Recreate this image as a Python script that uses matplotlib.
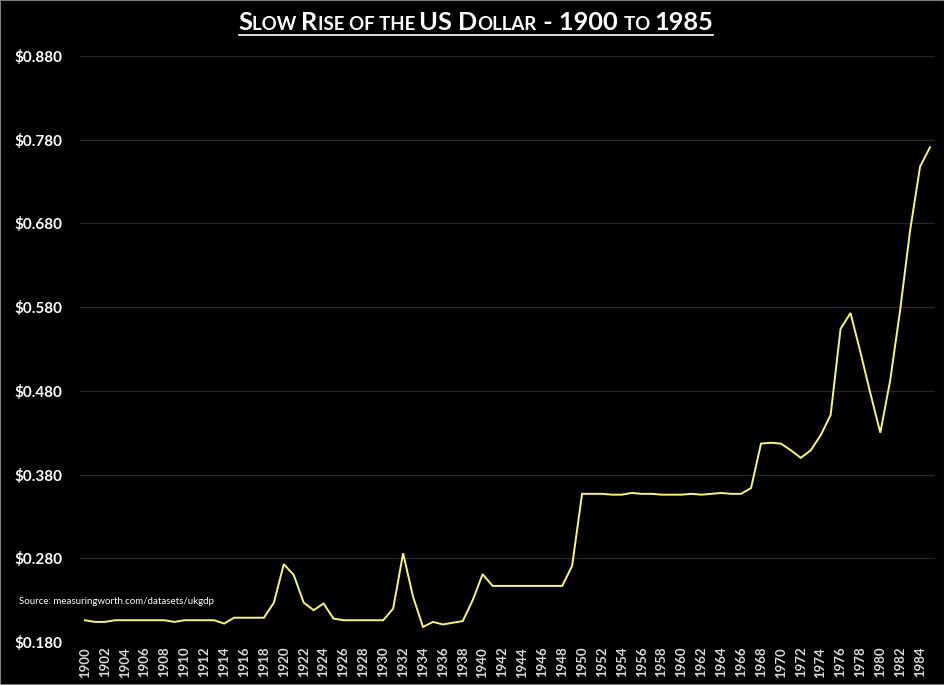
import matplotlib
matplotlib.use("Agg")
import matplotlib.pyplot as plt
from matplotlib.lines import Line2D
from matplotlib.patches import Rectangle

years = list(range(1900, 1986))
values = [
    0.206, 0.204, 0.204, 0.206, 0.206, 0.206, 0.206, 0.206, 0.206, 0.204,  # 1900-1909
    0.206, 0.206, 0.206, 0.206, 0.202, 0.209, 0.209, 0.209, 0.209, 0.227,  # 1910-1919
    0.273, 0.260, 0.227, 0.218, 0.226, 0.208, 0.206, 0.206, 0.206, 0.206,  # 1920-1929
    0.206, 0.220, 0.286, 0.234, 0.198, 0.204, 0.201, 0.203, 0.205, 0.230,  # 1930-1939
    0.261, 0.247, 0.247, 0.247, 0.247, 0.247, 0.247, 0.247, 0.247, 0.271,  # 1940-1949
    0.357, 0.357, 0.357, 0.356, 0.356, 0.358, 0.357, 0.357, 0.356, 0.356,  # 1950-1959
    0.356, 0.357, 0.356, 0.357, 0.358, 0.357, 0.357, 0.364, 0.417, 0.418,  # 1960-1969
    0.417, 0.409, 0.400, 0.409, 0.427, 0.451, 0.554, 0.573, 0.526, 0.477,  # 1970-1979
    0.430, 0.493, 0.577, 0.672, 0.748, 0.771,                              # 1980-1985
]
y_ticks = [0.18, 0.28, 0.38, 0.48, 0.58, 0.68, 0.78, 0.88]
y_tick_labels = ["$0.180", "$0.280", "$0.380", "$0.480", "$0.580", "$0.680", "$0.780", "$0.880"]
x_ticks = list(range(1900, 1985, 2))
x_tick_labels = [str(y) for y in x_ticks]
title_parts = [("S", True), ("LOW ", False), ("R", True), ("ISE OF THE ", False),
               ("US D", True), ("OLLAR", False), (" - 1900 ", True), ("TO ", False), ("1985", True)]
source_text = "Source: measuringworth.com/datasets/ukgdp"

FONT = "Lato"
W, H = 945, 685
fig = plt.figure(figsize=(W / 100, H / 100), dpi=100, facecolor="black")
ax = fig.add_axes([80 / W, 1 - 642 / H, 855 / W, 586 / H], facecolor="black")

ax.plot(years, values, color="#FAF47A", lw=1.4, solid_joinstyle="miter")
ax.set_xlim(1899.5, 1985.5)
ax.set_ylim(0.18, 0.88)
ax.set_yticks(y_ticks)
ax.set_yticklabels(y_tick_labels, fontfamily=FONT, fontweight="bold", fontsize=11, color="white")
ax.set_xticks(x_ticks)
ax.set_xticklabels(x_tick_labels, rotation=90, fontfamily=FONT, fontweight="bold",
                   fontsize=9.5, color="#D9D9D9")
ax.tick_params(axis="both", length=0)
for lbl in ax.get_yticklabels():
    lbl.set_horizontalalignment("left")
ax.tick_params(axis="y", pad=(80 - 14) / 1.389)
ax.tick_params(axis="x", pad=3.5)
ax.grid(axis="y", color="#262626", lw=0.9)
ax.set_axisbelow(True)
for s in ax.spines.values():
    s.set_visible(False)

fig.text(19 / W, 1 - 601 / H, source_text, fontfamily=FONT, fontsize=7, color="white",
         va="center", ha="left")

# Title with simulated small caps
fig.canvas.draw()
renderer = fig.canvas.get_renderer()
big, small = 18.3, 13.4
texts = []
for s, is_big in title_parts:
    t = fig.text(0, 1 - 30 / H, s, fontfamily=FONT, fontweight="bold",
                 fontsize=big if is_big else small, color="white",
                 va="baseline", ha="left")
    texts.append(t)
widths = [t.get_window_extent(renderer).width for t in texts]
total = sum(widths)
start = 476 - total / 2
xpos = start
for t, w in zip(texts, widths):
    t.set_x(xpos / W)
    xpos += w
fig.add_artist(Line2D([start / W, (start + total) / W], [1 - 34.5 / H, 1 - 34.5 / H],
                      color="white", lw=1.2, transform=fig.transFigure))

fig.add_artist(Rectangle((0, 0), 1, 1, transform=fig.transFigure, fill=False,
                         edgecolor="#7F7F7F", lw=1.5))

fig.savefig("out.png", dpi=100, facecolor="black")
